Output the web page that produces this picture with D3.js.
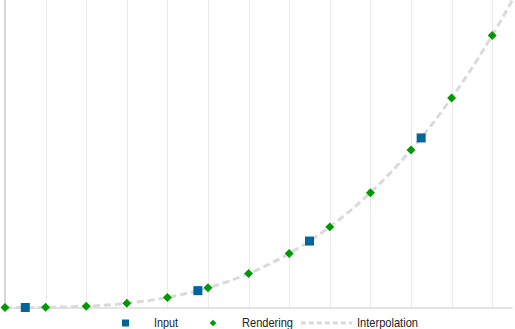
<!DOCTYPE html>
<html>
<head>
<meta charset="utf-8">
<script src="https://cdn.jsdelivr.net/npm/d3@7"></script>
<style>
  body { margin: 0; background: #fff; }
  svg { display: block; }
  text { font-family: "Liberation Sans", Arial, sans-serif; font-size: 13px; fill: #222; }
</style>
</head>
<body>
<svg id="chart" width="515" height="329"></svg>
<script>
// rendered samples (green diamonds)
const renderX = [0, 1, 2, 3, 4, 5, 6, 7, 8, 9, 10, 11, 12];
const renderY = [0, 1, 8, 27, 64, 125, 216, 343, 512, 729, 1000, 1331, 1728];

// input points (blue squares)
const inputX = [0.5, 4.75, 7.5, 10.25];
const inputY = [0.1, 107, 422, 1077];

// dashed interpolation curve
const interpX = [0, 0.5, 1, 1.5, 2, 2.5, 3, 3.5, 4, 4.5, 5, 5.5, 6, 6.5, 7, 7.5, 8, 8.5, 9, 9.5, 10, 10.5, 11, 11.5, 12, 12.5];
const interpY = [0, 0.1, 1, 3.4, 8, 15.6, 27, 42.9, 64, 91.1, 125, 166.4, 216, 274.6, 343, 421.9, 512, 614.1, 729, 857.4, 1000, 1157.6, 1331, 1520.9, 1728, 1953];

const gridTicks = [0, 1, 2, 3, 4, 5, 6, 7, 8, 9, 10, 11, 12];
const legendLabels = ["Input", "Rendering", "Interpolation"];

const blue = "#00659c", green = "#009a00";

const svg = d3.select("#chart");
const x = d3.scaleLinear().domain([0, 12.5]).range([5, 512.5]);
const y = d3.scaleLinear().domain([0, 1953]).range([307.5, 0]);

// vertical gridlines
svg.append("g")
  .selectAll("line")
  .data(gridTicks.slice(1))
  .join("line")
  .attr("x1", d => Math.round(x(d)) + 0.5)
  .attr("x2", d => Math.round(x(d)) + 0.5)
  .attr("y1", 0)
  .attr("y2", y(0))
  .attr("stroke", "#ebebeb");

// axes
svg.append("line")
  .attr("x1", x(0)).attr("x2", x(12.5))
  .attr("y1", y(0) + 0.5).attr("y2", y(0) + 0.5)
  .attr("stroke", "#c8c8c8");
svg.append("line")
  .attr("x1", x(0)).attr("x2", x(0))
  .attr("y1", 0).attr("y2", y(0))
  .attr("stroke", "#c8c8c8").attr("stroke-width", 1.5);

// interpolation
const line = d3.line()
  .x((d, i) => x(interpX[i]))
  .y(d => y(d))
  .curve(d3.curveCatmullRom);

svg.append("path")
  .attr("d", line(interpY))
  .attr("fill", "none")
  .attr("stroke", "#dadada")
  .attr("stroke-width", 3)
  .attr("stroke-dasharray", "7,4");

// rendering diamonds
const diamond = d3.symbol().type(d3.symbolSquare).size(40);
svg.append("g")
  .selectAll("path")
  .data(renderY)
  .join("path")
  .attr("d", diamond)
  .attr("transform", (d, i) => `translate(${x(renderX[i])},${y(d)}) rotate(45)`)
  .attr("fill", green);

// input squares
svg.append("g")
  .selectAll("rect")
  .data(inputY)
  .join("rect")
  .attr("x", (d, i) => x(inputX[i]) - 4.5)
  .attr("y", d => y(d) - 4.5)
  .attr("width", 9)
  .attr("height", 9)
  .attr("fill", blue);

// legend
const leg = svg.append("g").attr("transform", "translate(0,323)");
leg.append("rect").attr("x", 122).attr("y", -3.5).attr("width", 7).attr("height", 7).attr("fill", blue);
leg.append("path")
  .attr("d", d3.symbol().type(d3.symbolSquare).size(22))
  .attr("transform", "translate(213,0) rotate(45)")
  .attr("fill", green);
leg.append("line")
  .attr("x1", 301).attr("x2", 352)
  .attr("stroke", "#dadada").attr("stroke-width", 3)
  .attr("stroke-dasharray", "5,3");
// the reference uses a narrow face, so squeeze the text to its widths
leg.selectAll("text")
  .data(legendLabels)
  .join("text")
  .attr("x", (d, i) => [154, 242, 357][i])
  .attr("y", 4)
  .attr("textLength", (d, i) => [24, 51, 61][i])
  .attr("lengthAdjust", "spacingAndGlyphs")
  .text(d => d);
</script>
</body>
</html>
